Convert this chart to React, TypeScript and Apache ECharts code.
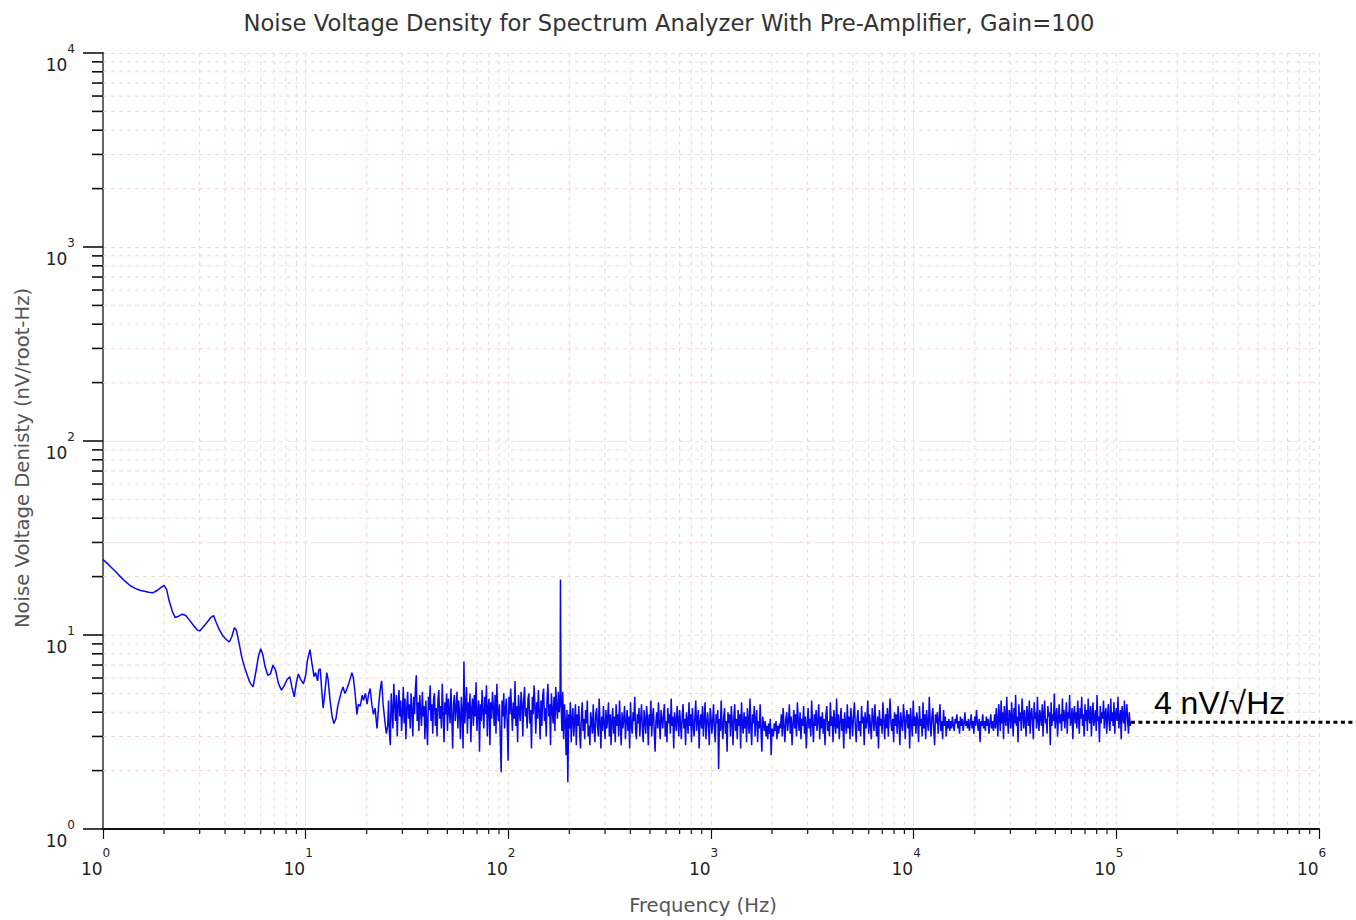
import React, { useEffect, useRef } from "react";
import * as echarts from "echarts";

// ---------- texts ----------
const titleText =
  "Noise Voltage Density for Spectrum Analyzer With Pre-Amplifier, Gain=100";
const xAxisTitle = "Frequency (Hz)";
const yAxisTitle = "Noise Voltage Denisty (nV/root-Hz)";
const noiseFloorLabel = "4 nV/\u221AHz";

// ---------- axes ----------
const xMin = 1;
const xMax = 1e6;
const yMin = 1;
const yMax = 1e4;
const xDecades = [1, 10, 100, 1e3, 1e4, 1e5];
const yDecades = [1, 10, 100, 1e3];
const minorMultipliers = [2, 3, 4, 5, 6, 7, 8, 9];

// ---------- reference level (dotted line) ----------
const noiseFloorStartHz = 118000;
const noiseFloorLevel = 3.55;

// ---------- data: low-frequency part, [Hz, nV/rtHz] ----------
const lowBand: [number, number][] = [
  [1.0, 24.5], [1.05, 23.4], [1.1, 22.3], [1.15, 21.3], [1.2, 20.3], [1.28, 19.0],
  [1.36, 18.0], [1.44, 17.4], [1.52, 17.0], [1.6, 16.8], [1.68, 16.6], [1.76, 16.5],
  [1.84, 16.9], [1.92, 17.5], [2.0, 18.0], [2.06, 17.2], [2.12, 15.0], [2.2, 13.2],
  [2.27, 12.3], [2.36, 12.5], [2.46, 12.8], [2.56, 12.6], [2.66, 12.0], [2.8, 11.2],
  [2.92, 10.6], [3.0, 10.5], [3.12, 11.0], [3.26, 11.6], [3.4, 12.3], [3.51, 12.6],
  [3.62, 11.6], [3.76, 10.6], [3.9, 9.9], [4.05, 9.5], [4.2, 9.2], [4.32, 9.8],
  [4.45, 10.9], [4.55, 10.6], [4.7, 9.0], [4.85, 7.6], [5.0, 6.8], [5.15, 6.2],
  [5.3, 5.7], [5.5, 5.4], [5.7, 6.6], [5.85, 7.8], [6.0, 8.5], [6.15, 7.9],
  [6.3, 6.9], [6.5, 6.2], [6.7, 6.3], [6.9, 7.0], [7.1, 6.6], [7.35, 5.6],
  [7.6, 5.2], [7.85, 5.5], [8.1, 5.9], [8.35, 6.1], [8.55, 5.4], [8.78, 4.8],
  [9.0, 5.7], [9.2, 6.3], [9.45, 5.9], [9.75, 5.6], [10.0, 6.2], [10.2, 7.4],
  [10.5, 8.4], [10.75, 7.1], [11.0, 6.1], [11.2, 6.4], [11.45, 5.8], [11.6, 6.6],
  [11.8, 6.7], [12.0, 5.2], [12.2, 4.2], [12.45, 5.1], [12.7, 6.4], [12.9, 5.9],
  [13.2, 4.6], [13.5, 3.8], [13.8, 3.5], [14.1, 3.7], [14.4, 4.3], [14.7, 4.7],
  [15.0, 5.1], [15.3, 5.4], [15.6, 5.0], [15.9, 5.2], [16.3, 5.6], [16.7, 6.1],
  [16.9, 6.4], [17.2, 6.0], [17.5, 5.1], [17.9, 3.9], [18.2, 4.4], [18.6, 4.3],
  [19.0, 4.9], [19.3, 4.6], [19.7, 5.0], [20.1, 4.4], [20.4, 4.9], [20.8, 5.3],
  [21.2, 4.4], [21.6, 3.9], [22.0, 4.2], [22.5, 3.3], [22.9, 4.3], [23.3, 5.2],
  [23.7, 5.8], [24.1, 4.4], [24.6, 3.6], [25.0, 3.1],
];

// ---------- data: analyzer spans (values on log-spaced frequency bins) ----------
const band1Range = [25.4, 180];
const band1Noise = [
  3.4, 4.6, 3.1, 2.7, 5.0, 4.1, 3.3, 5.6, 4.4, 3.6, 4.9, 3.0, 4.3, 5.2, 3.8, 4.6, 3.2, 4.0, 5.4, 3.5,
  4.7, 2.9, 4.2, 5.1, 3.7, 4.4, 3.3, 5.0, 4.1, 3.0, 4.8, 3.9, 5.3, 6.2, 3.6, 4.5, 3.2, 4.9, 4.0, 3.4,
  5.1, 3.8, 4.3, 2.9, 4.6, 3.5, 2.7, 4.8, 4.1, 5.5, 3.6, 4.4, 3.1, 4.7, 5.0, 3.4, 4.2, 3.0, 4.6, 5.2,
  3.7, 4.3, 3.3, 5.6, 4.0, 2.8, 4.5, 3.9, 5.0, 3.2, 4.7, 4.1, 3.5, 5.3, 3.8, 2.6, 4.4, 4.9, 3.6, 4.2,
  5.1, 3.3, 4.6, 3.9, 2.9, 4.8, 4.0, 2.6, 7.3, 3.5, 4.3, 5.4, 3.1, 4.5, 3.7, 5.0, 2.8, 4.2, 4.7, 3.4,
  4.9, 3.8, 5.7, 3.2, 4.1, 4.6, 2.5, 4.4, 3.6, 5.2, 4.0, 3.3, 4.8, 3.9, 5.5, 3.0, 4.3, 4.7, 2.7, 4.5,
  3.7, 5.1, 4.2, 3.4, 4.9, 3.1, 5.6, 4.0, 3.6, 4.4, 2.9, 1.96, 4.6, 3.8, 5.0, 3.3, 4.2, 4.7, 3.5, 2.25,
  4.8, 3.9, 5.3, 4.1, 3.2, 4.5, 3.7, 5.8, 3.4, 4.3, 2.8, 4.9, 4.0, 3.6, 5.1, 4.4, 3.0, 4.6, 5.4, 3.8,
  4.2, 3.3, 4.7, 5.0, 3.5, 4.1, 2.6, 4.8, 3.9, 5.5, 4.3, 3.1, 4.5, 3.7, 5.2, 4.0, 2.9, 4.6, 3.4, 4.9,
  5.3, 3.6, 4.2, 3.0, 4.7, 5.6, 3.8, 4.4, 2.7, 5.0, 4.1, 3.5, 4.8, 3.2, 5.4, 4.3, 3.7, 5.1, 4.0, 4.6,
];
const spike: [number, number][] = [[180.8, 19.3]];
const band2Range = [182, 2000];
const band2Noise = [
  4.6, 3.2, 5.1, 2.9, 4.4, 3.6, 2.4, 4.1, 1.74, 3.9, 3.3, 4.5, 2.8, 3.7, 4.2, 3.0, 3.6, 4.4, 2.7, 3.9,
  3.4, 4.3, 3.1, 2.6, 3.8, 4.5, 3.2, 3.7, 2.9, 4.1, 3.5, 4.6, 3.0, 3.4, 2.7, 4.0, 3.6, 3.1, 4.4, 3.3,
  2.8, 3.9, 4.2, 3.4, 3.0, 4.7, 3.6, 2.6, 3.8, 3.2, 4.3, 3.5, 2.9, 4.1, 3.3, 3.7, 4.5, 3.0, 3.9, 2.7,
  3.6, 4.2, 3.1, 3.8, 2.8, 4.4, 3.4, 3.9, 3.0, 4.6, 3.5, 2.7, 4.0, 3.3, 3.7, 4.3, 2.9, 3.6, 4.1, 3.2,
  3.8, 2.6, 4.5, 3.4, 3.1, 4.0, 3.6, 4.8, 3.2, 2.9, 3.9, 3.5, 4.2, 3.0, 3.7, 4.4, 3.3, 2.8, 4.1, 3.6,
  3.1, 4.3, 3.7, 2.7, 3.9, 3.4, 4.6, 3.0, 3.8, 4.2, 3.2, 2.5, 3.6, 4.0, 3.3, 4.5, 3.5, 2.9, 4.1, 3.7,
  3.3, 3.9, 4.4, 3.0, 3.6, 2.8, 4.2, 3.5, 3.9, 3.1, 4.7, 3.4, 3.8, 2.6, 4.0, 3.6, 3.2, 4.3, 3.7, 3.0,
  4.1, 3.5, 2.9, 3.8, 4.4, 3.3, 3.7, 2.7, 4.0, 3.6, 3.1, 4.5, 3.4, 3.9, 2.8, 4.2, 3.5, 3.0, 3.8, 4.6,
  3.2, 3.7, 4.1, 2.6, 3.6, 3.9, 3.3, 4.3, 3.0, 3.7, 4.5, 2.9, 3.5, 4.0, 3.4, 2.7, 4.2, 3.8, 3.1, 3.6,
  4.4, 3.3, 2.8, 3.9, 3.5, 4.1, 2.04, 3.7, 3.2, 4.6, 3.4, 2.9, 3.8, 4.2, 3.1, 3.6, 2.5, 4.0, 3.5, 3.9,
  3.0, 4.3, 3.6, 2.7, 3.8, 4.4, 3.2, 3.7, 2.9, 4.1, 3.4, 3.9, 2.6, 4.5, 3.5, 3.1, 4.0, 3.3, 3.8, 2.8,
  4.2, 3.6, 3.1, 4.7, 3.4, 2.7, 3.9, 3.5, 4.3, 3.0, 3.7, 4.1, 2.8, 3.6, 3.3, 4.4, 3.2, 2.5, 3.8, 3.5,
  3.2, 3.6, 3.0, 3.4, 2.9, 3.5, 3.1, 3.7, 2.4, 3.3,
];
const band3Range = [2010, 25000];
const band3Noise = [
  3.3, 3.0, 3.5, 3.2, 3.6, 2.9, 3.4, 3.1, 3.5, 3.3, 3.9, 3.0, 4.2, 3.4, 2.8, 3.7, 4.0, 3.2, 3.6, 4.4,
  3.1, 3.8, 2.7, 3.5, 4.1, 3.3, 3.9, 3.0, 4.5, 3.6, 3.2, 4.0, 2.9, 3.7, 3.4, 4.3, 3.1, 3.8, 2.6, 3.5,
  4.2, 3.3, 3.7, 3.0, 4.6, 3.5, 2.8, 3.9, 3.4, 4.1, 3.2, 3.6, 4.4, 2.9, 3.8, 3.3, 4.0, 3.1, 3.7, 2.7,
  3.9, 4.3, 3.2, 3.6, 3.0, 4.5, 3.4, 3.8, 2.8, 4.1, 3.5, 3.1, 4.7, 3.3, 3.9, 2.9, 3.6, 4.2, 3.2, 3.7,
  2.6, 4.0, 3.5, 3.1, 4.4, 3.3, 3.8, 2.9, 4.2, 3.6, 3.0, 3.9, 4.5, 3.4, 2.8, 3.7, 4.1, 3.2, 3.6, 3.0,
  4.3, 3.5, 3.8, 2.7, 4.0, 3.3, 3.6, 4.6, 3.1, 3.9, 3.4, 2.9, 4.2, 3.7, 3.2, 4.4, 3.5, 3.0, 3.8, 2.6,
  4.1, 3.4, 3.7, 3.1, 4.5, 3.6, 2.9, 3.9, 3.3, 4.2, 3.0, 3.8, 4.7, 3.5, 3.2, 3.7, 2.8, 4.0, 3.4, 3.9,
  3.1, 4.3, 3.6, 2.7, 4.0, 3.5, 3.2, 4.4, 3.8, 2.9, 3.7, 4.1, 3.3, 3.9, 2.6, 4.2, 3.5, 3.0, 4.6, 3.4,
  3.8, 3.1, 4.0, 3.6, 2.8, 4.3, 3.4, 3.7, 3.0, 4.5, 3.3, 3.9, 2.9, 4.1, 3.5, 3.2, 4.8, 3.6, 3.0, 3.8,
  4.2, 3.3, 2.7, 3.9, 3.5, 4.0, 3.1, 3.7, 4.4, 3.2, 3.6, 2.9, 4.1, 3.4, 3.8, 3.0, 3.6, 3.3, 3.7, 3.2,
  3.6, 3.3, 3.8, 3.4, 3.2, 3.7, 3.5, 3.9, 3.3, 3.6, 3.1, 3.8, 3.4, 3.7, 3.2, 3.5, 4.0, 3.4, 3.6, 3.3,
  3.7, 3.2, 3.5, 3.9, 3.3, 3.6, 3.1, 3.8, 3.4, 4.1, 3.5, 3.2, 3.7, 2.8, 3.6, 3.4, 3.9, 3.3, 3.6, 3.2,
  3.8, 3.4, 3.7, 3.1, 3.5, 3.9, 3.3, 3.6, 3.2, 3.7,
];
const band4Range = [25100, 118000];
const band4Noise = [
  3.9, 3.3, 4.2, 3.6, 3.0, 4.4, 3.8, 3.2, 4.6, 3.5, 4.0, 2.9, 4.3, 3.7, 3.4, 4.8, 3.6, 3.1, 4.1, 3.9,
  3.3, 4.5, 3.7, 3.0, 4.2, 3.5, 4.9, 3.4, 3.8, 2.8, 4.4, 3.6, 4.0, 3.2, 4.7, 3.9, 3.3, 4.1, 3.6, 3.0,
  4.3, 3.8, 3.4, 4.6, 3.1, 3.9, 4.2, 3.5, 2.9, 4.5, 3.7, 4.0, 3.3, 4.8, 3.6, 3.2, 4.1, 3.8, 3.4, 4.4,
  3.0, 3.9, 4.6, 3.5, 3.7, 3.1, 4.3, 3.8, 4.0, 2.7, 4.5, 3.4, 3.9, 3.6, 5.0, 3.3, 3.8, 4.2, 3.0, 3.7,
  4.4, 3.5, 3.9, 3.2, 4.7, 3.6, 4.1, 3.3, 3.8, 4.5, 3.1, 4.0, 3.7, 4.9, 3.4, 3.6, 4.2, 2.9, 3.9, 4.3,
  3.5, 4.0, 3.3, 4.6, 3.8, 3.1, 4.2, 3.7, 4.8, 3.4, 3.9, 3.0, 4.4, 3.6, 4.1, 3.2, 4.7, 3.8, 3.5, 4.3,
  3.0, 3.9, 4.5, 3.4, 3.7, 4.1, 3.2, 4.9, 3.6, 3.8, 2.8, 4.3, 3.5, 4.0, 3.7, 4.6, 3.3, 3.9, 4.2, 3.1,
  3.8, 4.4, 3.5, 3.2, 4.7, 3.6, 4.0, 3.4, 4.5, 3.1, 3.9, 4.2, 3.6, 4.8, 3.3, 3.7, 4.1, 2.9, 4.3, 3.8,
  3.5, 4.6, 3.2, 3.9, 4.4, 3.6, 3.1, 4.0, 3.4, 3.6,
];

// frequency bins of one analyzer span (log-spaced between its start and stop)
function spanPairs(range: number[], values: number[]): [number, number][] {
  const [f0, f1] = range;
  const n = values.length;
  const r = Math.log10(f1 / f0);
  return values.map((v, i) => [f0 * Math.pow(10, (r * i) / (n - 1)), v]);
}

const gridColor = "#f3d6d6";
const axisColor = "#111";
const font = "DejaVu Sans";

export default function App() {
  const ref = useRef<HTMLDivElement>(null);

  useEffect(() => {
    document.body.style.margin = "0";
    if (!ref.current) return;
    const chart = echarts.init(ref.current, undefined, { renderer: "svg" });

    const spectrum: [number, number][] = [
      ...lowBand,
      ...spanPairs(band1Range, band1Noise),
      ...spike,
      ...spanPairs(band2Range, band2Noise),
      ...spanPairs(band3Range, band3Noise),
      ...spanPairs(band4Range, band4Noise),
    ];

    const xMinor: number[][] = [];
    xDecades.forEach((d) => minorMultipliers.forEach((m) => xMinor.push([d * m, 1])));
    const yMinor: number[][] = [];
    yDecades.forEach((d) => minorMultipliers.forEach((m) => yMinor.push([1, d * m])));

    const expFormatter = (v: number) => `{b|10}{e|${Math.round(Math.log10(v))}}`;
    const baseRich = {
      b: { fontFamily: font, fontSize: 17, lineHeight: 18, color: "#222", padding: [24, 0, 0, 0] },
    };

    const option: any = {
      animation: false,
      backgroundColor: "#fff",
      title: {
        text: titleText,
        left: 664,
        top: 6,
        textAlign: "center",
        textStyle: { fontFamily: font, fontSize: 22.7, fontWeight: "normal", color: "#333" },
      },
      grid: { left: 103, top: 53, width: 1216, height: 776, containLabel: false },
      xAxis: [
        {
          type: "log",
          logBase: 10,
          min: xMin,
          max: xMax,
          axisLine: { show: true, onZero: false, lineStyle: { color: axisColor, width: 2 } },
          axisTick: { show: true, inside: false, length: 10, lineStyle: { color: axisColor, width: 1.2 } },
          splitLine: { show: true, lineStyle: { color: gridColor, type: [4, 4], width: 1 } },
          minorTick: { show: false },
          axisLabel: {
            margin: 19,
            showMinLabel: true,
            showMaxLabel: true,
            formatter: expFormatter,
            rich: {
              ...baseRich,
              e: { fontFamily: font, fontSize: 12, lineHeight: 12, color: "#222", padding: [0, 15, 8, 0] },
            },
          },
        },
        {
          type: "value",
          position: "top",
          min: 0,
          max: 1,
          axisLine: { show: true, lineStyle: { color: axisColor, width: 2 } },
          axisTick: { show: false },
          axisLabel: { show: false },
          splitLine: { show: false },
        },
      ],
      yAxis: [
        {
          type: "log",
          logBase: 10,
          min: yMin,
          max: yMax,
          axisLine: { show: true, onZero: false, lineStyle: { color: axisColor, width: 2 } },
          axisTick: { show: true, inside: false, length: 20, lineStyle: { color: axisColor, width: 1.6 } },
          splitLine: { show: true, lineStyle: { color: gridColor, type: [4, 4], width: 1 } },
          axisLabel: {
            margin: 28,
            showMinLabel: true,
            showMaxLabel: true,
            formatter: expFormatter,
            rich: {
              ...baseRich,
              e: { fontFamily: font, fontSize: 12, lineHeight: 12, color: "#222", padding: [0, 0, 8, 0] },
            },
          },
        },
        {
          type: "value",
          position: "right",
          min: 0,
          max: 1,
          axisLine: { show: true, lineStyle: { color: "#666", width: 2 } },
          axisTick: { show: false },
          axisLabel: { show: false },
          splitLine: { show: false },
        },
      ],
      graphic: [
        {
          type: "text",
          x: 703,
          y: 905,
          style: {
            text: xAxisTitle,
            fontFamily: font,
            fontSize: 19.6,
            fill: "#555",
            textAlign: "center",
            textVerticalAlign: "middle",
          },
        },
        {
          type: "text",
          x: 22,
          y: 458,
          rotation: Math.PI / 2,
          style: {
            text: yAxisTitle,
            fontFamily: font,
            fontSize: 19.6,
            fill: "#555",
            textAlign: "center",
            textVerticalAlign: "middle",
          },
        },
      ],
      series: [
        {
          type: "custom",
          name: "xMinor",
          silent: true,
          clip: false,
          z: 1,
          data: xMinor,
          renderItem: (_p: any, api: any) => {
            const v = api.value(0);
            const b = api.coord([v, yMin]);
            const t = api.coord([v, yMax]);
            return {
              type: "group",
              children: [
                {
                  type: "line",
                  shape: { x1: b[0], y1: t[1], x2: b[0], y2: b[1] },
                  style: { stroke: gridColor, lineWidth: 1, lineDash: [4, 4] },
                },
                {
                  type: "line",
                  shape: { x1: b[0], y1: b[1], x2: b[0], y2: b[1] + 5 },
                  style: { stroke: axisColor, lineWidth: 1.2 },
                },
              ],
            };
          },
        },
        {
          type: "custom",
          name: "yMinor",
          silent: true,
          clip: false,
          z: 1,
          data: yMinor,
          renderItem: (_p: any, api: any) => {
            const v = api.value(1);
            const l = api.coord([xMin, v]);
            const r = api.coord([xMax, v]);
            return {
              type: "group",
              children: [
                {
                  type: "line",
                  shape: { x1: l[0], y1: l[1], x2: r[0], y2: l[1] },
                  style: { stroke: gridColor, lineWidth: 1, lineDash: [4, 4] },
                },
                {
                  type: "line",
                  shape: { x1: l[0] - 11, y1: l[1], x2: l[0], y2: l[1] },
                  style: { stroke: axisColor, lineWidth: 1.6 },
                },
              ],
            };
          },
        },
        {
          type: "line",
          name: "Noise",
          data: spectrum,
          showSymbol: false,
          symbol: "none",
          z: 3,
          lineStyle: { color: "#0808ee", width: 1.5 },
        },
        {
          type: "custom",
          name: "noiseFloor",
          silent: true,
          clip: false,
          z: 4,
          data: [[noiseFloorStartHz, noiseFloorLevel]],
          renderItem: (_p: any, api: any) => {
            const p = api.coord([api.value(0), api.value(1)]);
            return {
              type: "group",
              children: [
                {
                  type: "line",
                  shape: { x1: p[0], y1: p[1], x2: api.getWidth(), y2: p[1] },
                  style: { stroke: "#000", lineWidth: 3, lineDash: [4, 3.5] },
                },
                {
                  type: "text",
                  style: {
                    text: noiseFloorLabel,
                    x: p[0] + 23,
                    y: p[1] - 3,
                    fontFamily: "Liberation Sans",
                    fontSize: 32,
                    fill: "#000",
                    textAlign: "left",
                    textVerticalAlign: "bottom",
                  },
                },
              ],
            };
          },
        },
      ],
    };

    chart.setOption(option);
    return () => chart.dispose();
  }, []);

  return <div ref={ref} style={{ width: 1356, height: 920 }} />;
}
